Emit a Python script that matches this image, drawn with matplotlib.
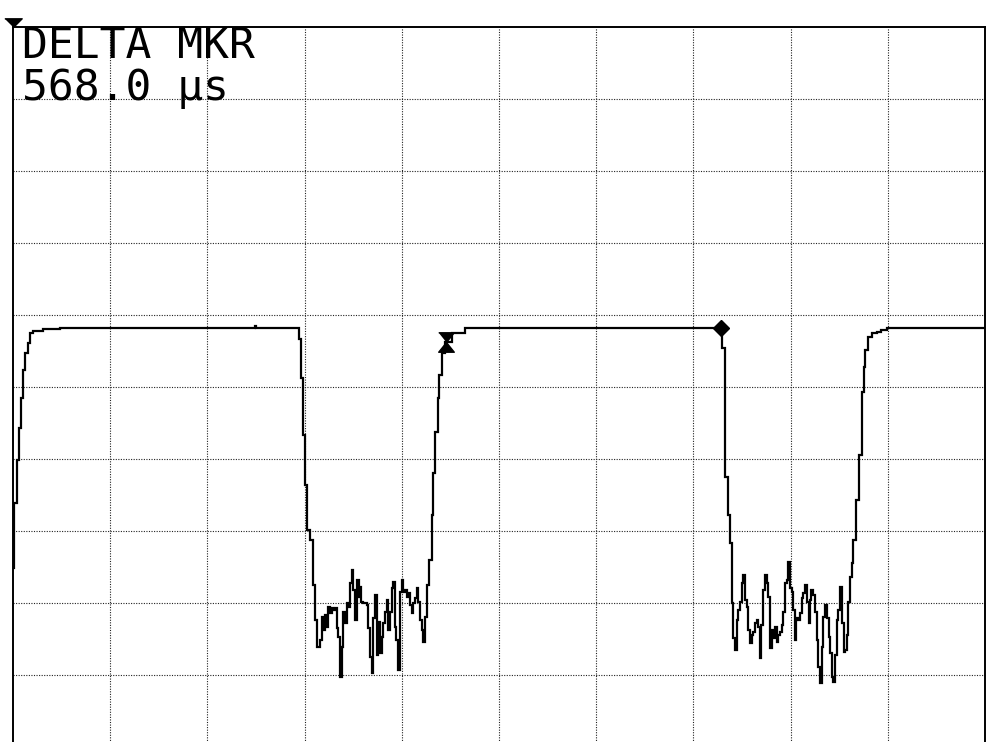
"""Spectrum analyzer zero-span capture: pulsed carrier with delta marker readout."""

import matplotlib
matplotlib.use("Agg")
import matplotlib.pyplot as plt

# sweep: 200 us/div, reference level 0 dB, 10 dB/div
SWEEP_US = 2000
REF_DB = 0
BOTTOM_DB = -100

trace_us = [
    2, 2, 9, 9, 12, 12, 16, 16, 20, 20, 25, 25, 28, 31, 35, 41, 62, 97,
    496, 498, 500, 586,
    588, 593, 593, 597, 597, 601, 601, 604, 604, 611, 618, 618, 621, 625,
    632, 635, 638, 642, 645, 649, 652, 656, 659, 663, 666, 669, 673, 676,
    680, 683, 687, 690, 693, 697, 700, 704, 707, 711, 714, 717, 721, 728,
    731, 735, 738, 741, 745, 748, 752, 755, 759, 762, 765, 769, 772, 776,
    779, 782, 786, 789, 793, 796, 800, 803, 807, 810, 813, 817, 820, 824,
    827, 831, 834, 837, 841, 844, 848, 852, 855,
    862, 862, 865, 865, 868, 868, 874, 874, 877, 877, 882, 882, 889, 903, 930,
    1456,
    1459, 1459, 1464, 1464, 1466, 1466, 1471, 1471, 1475, 1475, 1480, 1480,
    1482, 1486, 1489, 1492, 1496, 1499, 1503, 1506, 1510, 1513, 1516, 1520,
    1523, 1527, 1530, 1533, 1537, 1540, 1544, 1547, 1551, 1554, 1558, 1561,
    1564, 1568, 1571, 1575, 1578, 1582, 1585, 1588, 1592, 1595, 1599, 1602,
    1605, 1609, 1612, 1616, 1619, 1623, 1626, 1630, 1633, 1637, 1640, 1643,
    1647, 1650, 1654, 1657, 1660, 1664, 1667, 1671, 1674, 1678, 1681, 1685,
    1688, 1692, 1695, 1698, 1702, 1705, 1709, 1712, 1716, 1719, 1722, 1726,
    1729,
    1735, 1741, 1746, 1746, 1750, 1750, 1753, 1753, 1759, 1767, 1777, 1786,
    1798, 2000,
]

trace_db = [
    -75.1, -66.1, -65.8, -60.1, -60.1, -55.7, -55.7, -51.5, -51.5, -47.6,
    -47.6, -45.3, -45.3, -43.9, -42.5, -42.2, -41.9, -41.8,
    -41.8, -41.5, -41.8, -41.8,
    -43.3, -43.3, -48.8, -48.8, -56.7, -56.7, -63.6, -63.6, -69.9, -71.3,
    -72.2, -77.5, -82.4, -86.1,
    -85.1, -81.9, -83.8, -81.7, -83.3, -80.6, -81.4, -80.7, -81.0, -80.7,
    -83.5, -84.7, -90.3, -86.1, -81.3, -82.8, -80.0, -80.6, -77.2, -75.4,
    -78.2, -82.4, -76.8, -79.2, -77.8, -79.9, -80.0, -80.3, -83.5, -87.5,
    -89.7, -82.1, -78.9, -87.2, -82.6, -86.9, -84.7, -82.8, -81.3, -79.6,
    -83.8, -81.3, -77.9, -77.1, -83.3, -85.1, -89.3, -78.5, -76.8, -78.5,
    -78.2, -79.2, -78.6, -80.3, -81.4, -80.0, -79.3, -77.9, -79.9, -82.4,
    -83.8, -85.4, -81.9, -77.5, -74.0,
    -72.6, -67.8, -67.8, -61.9, -61.9, -56.3, -56.3, -51.5, -51.5, -48.3,
    -48.3, -45.3, -43.8, -42.5, -41.8,
    -41.8,
    -42.1, -44.6, -44.6, -51.8, -51.8, -62.5, -62.5, -67.8, -67.8, -71.7,
    -71.7, -80.0,
    -84.9, -86.5, -82.4, -81.0, -79.9, -77.2, -76.1, -79.6, -80.6, -83.8,
    -85.6, -84.4, -84.0, -82.8, -82.4, -83.3, -87.6, -83.1, -78.2, -76.1,
    -77.2, -79.2, -86.3, -83.8, -84.9, -83.3, -85.4, -84.4, -84.0, -83.1,
    -81.3, -77.2, -76.8, -74.3, -77.9, -78.5, -81.0, -85.1, -82.1, -82.4,
    -81.4, -79.3, -78.6, -77.5, -79.9, -82.8, -79.6, -78.2, -78.9, -81.3,
    -85.1, -88.9, -91.1, -86.1, -81.9, -80.3, -82.1, -84.7, -86.9, -90.3,
    -91.0, -87.2, -82.4, -81.0, -77.8, -82.8, -86.8, -86.5, -84.4, -79.9,
    -76.4, -74.4, -71.3,
    -65.7, -59.4, -54.6, -50.7, -50.7, -47.2, -47.2, -44.9, -43.1, -42.5,
    -42.4, -42.1, -41.8, -41.8,
]

# markers: delta (bowtie) and reference (diamond)
delta_mkr_us, delta_mkr_db = 891, -43.8
ref_mkr_us, ref_mkr_db = 1456, -41.8

readout_lines = ["DELTA MKR", "568.0 \u03bcs"]

BOWTIE = [(-0.8, 1), (0.8, 1), (0, 0), (0.8, -1), (-0.8, -1), (0, 0)]
REF_TRIANGLE = [(-1, 1), (1, 1), (0, 0)]


def main():
    fig = plt.figure(figsize=(9.86, 7.42), dpi=100)
    ax = fig.add_axes([13 / 986, -5 / 742, 972 / 986, 720 / 742])

    ax.set_xlim(0, SWEEP_US)
    ax.set_ylim(BOTTOM_DB, REF_DB)
    ax.set_xticks([])
    ax.set_yticks([])

    # 10 x 10 graticule, dotted
    grid_style = dict(color="#222222", linewidth=0.8, linestyle=(0, (1, 1.3)))
    for t in range(200, SWEEP_US, 200):
        ax.axvline(t, **grid_style)
    for d in range(-90, 0, 10):
        ax.axhline(d, **grid_style)

    for side in ["left", "right", "top"]:
        ax.spines[side].set_linewidth(1.4)
        ax.spines[side].set_color("black")
    ax.spines["bottom"].set_visible(False)

    ax.plot(trace_us, trace_db, color="black", linewidth=1.6,
            drawstyle="steps-post", solid_joinstyle="miter")

    ax.plot([delta_mkr_us], [delta_mkr_db], marker=BOWTIE, markersize=14,
            color="black", linestyle="none")
    ax.plot([ref_mkr_us], [ref_mkr_db], marker="D", markersize=8,
            color="black", linestyle="none")

    # reference level indicator above the top-left corner
    ax.plot([0], [REF_DB], marker=REF_TRIANGLE, markersize=12.5,
            color="black", linestyle="none", clip_on=False)

    # marker readout; baseline alignment follows the last line
    ax.text(0.0093, 0.8986, "\n".join(readout_lines), transform=ax.transAxes,
            family="DejaVu Sans Mono", fontsize=31, linespacing=1.0,
            va="baseline", ha="left")

    fig.savefig("out.png", dpi=100)
    plt.close(fig)


if __name__ == "__main__":
    main()
